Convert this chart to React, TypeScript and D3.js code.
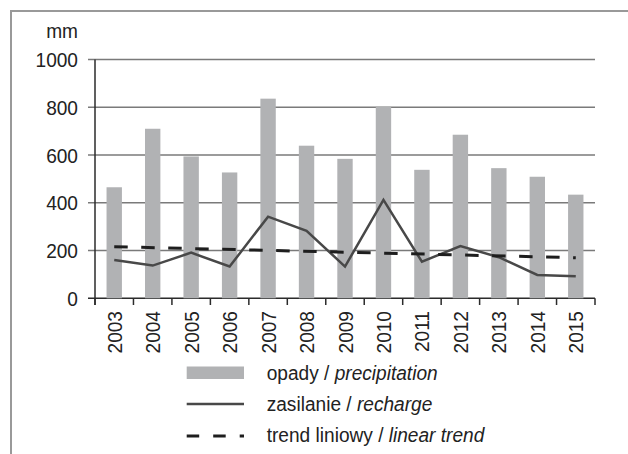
import React from "react";
import * as d3 from "d3";

const years = ["2003","2004","2005","2006","2007","2008","2009","2010","2011","2012","2013","2014","2015"];
const precipitation = [465, 710, 594, 527, 836, 639, 584, 803, 538, 685, 545, 509, 434];
const recharge = [160, 137, 191, 133, 342, 283, 133, 412, 153, 219, 172, 98, 92];
const trendYears = ["2003", "2015"];
const trendValues = [216, 170];
const yTicks = [0, 200, 400, 600, 800, 1000];
const unitLabel = "mm";
const legendLabels = [
  ["opady / ", "precipitation"],
  ["zasilanie / ", "recharge"],
  ["trend liniowy / ", "linear trend"],
];

const W = 628, H = 454;
const FONT = "'Liberation Sans', Arial, sans-serif";
const FS = 21;
const SX = 0.91;

export default function App() {
  const x = d3.scaleBand().domain(years).range([95, 595]).paddingInner(0).paddingOuter(0);
  const y = d3.scaleLinear().domain([0, 1000]).range([298.3, 59.5]);
  const bw = x.bandwidth() * 0.4;
  const cx = (d: string) => (x(d) as number) + x.bandwidth() / 2;

  const line = d3.line<number>().x((_, i) => cx(years[i])).y((d) => y(d));
  const trendLine = d3.line<number>().x((_, i) => cx(trendYears[i])).y((d) => y(d));
  const boundaries = years.map((d) => x(d) as number).concat([595]);

  return (
    <svg width={W} height={H} style={{ position: "absolute", left: 0, top: 0 }} fontFamily={FONT}>
      <rect x={0} y={0} width={W} height={H} fill="#fff" />
      <path d={`M11,${H + 5} L11,11 L${W + 5},11`} fill="none" stroke="#999" strokeWidth={2} />
      {/* grid lines */}
      {yTicks.map((t) => (
        <line key={t} x1={88} x2={595} y1={y(t)} y2={y(t)} stroke={t === 0 ? "#2b2b2b" : "#7a7a7a"} strokeWidth={1.5} />
      ))}
      {/* bars */}
      {years.map((yr, i) => (
        <rect key={yr} x={cx(yr) - bw / 2} y={y(precipitation[i])} width={bw} height={y(0) - y(precipitation[i])} fill="#b1b2b4" />
      ))}
      {/* y axis */}
      <line x1={95} x2={95} y1={y(1000)} y2={305} stroke="#2b2b2b" strokeWidth={1.5} />
      {boundaries.map((bx, i) => (
        <line key={i} x1={bx} x2={bx} y1={y(0)} y2={305} stroke="#2b2b2b" strokeWidth={1.5} />
      ))}
      {/* recharge line */}
      <path d={line(recharge) as string} fill="none" stroke="#484848" strokeWidth={2.5} strokeLinejoin="miter" />
      {/* trend */}
      <path d={trendLine(trendValues) as string} fill="none" stroke="#1e1e1e" strokeWidth={3} strokeDasharray="13.5,13.5" />
      {/* y tick labels */}
      {yTicks.map((t) => (
        <text key={t} transform={`translate(78,${y(t)}) scale(${SX},1)`} dy="0.36em" textAnchor="end" fontSize={FS} fill="#222">{t}</text>
      ))}
      <text transform={`translate(78,38) scale(${SX},1)`} textAnchor="end" fontSize={FS} fill="#222">{unitLabel}</text>
      {/* x tick labels */}
      {years.map((yr) => (
        <text key={yr} transform={`translate(${cx(yr)},311) rotate(-90) scale(${SX},1)`} dy="0.36em" textAnchor="end" fontSize={FS} fill="#222">{yr}</text>
      ))}
      {/* legend */}
      <rect x={186.7} y={366.5} width={57.3} height={12.5} fill="#b1b2b4" />
      <line x1={186.7} x2={244} y1={404} y2={404} stroke="#484848" strokeWidth={2.5} />
      <line x1={186.7} x2={244} y1={436} y2={436} stroke="#1e1e1e" strokeWidth={3} strokeDasharray="12.5,14" />
      {legendLabels.map((l, i) => (
        <text key={i} transform={`translate(266.7,${380 + i * 31}) scale(${SX},1)`} fontSize={FS} fill="#222">
          {l[0]}<tspan fontStyle="italic">{l[1]}</tspan>
        </text>
      ))}
    </svg>
  );
}
